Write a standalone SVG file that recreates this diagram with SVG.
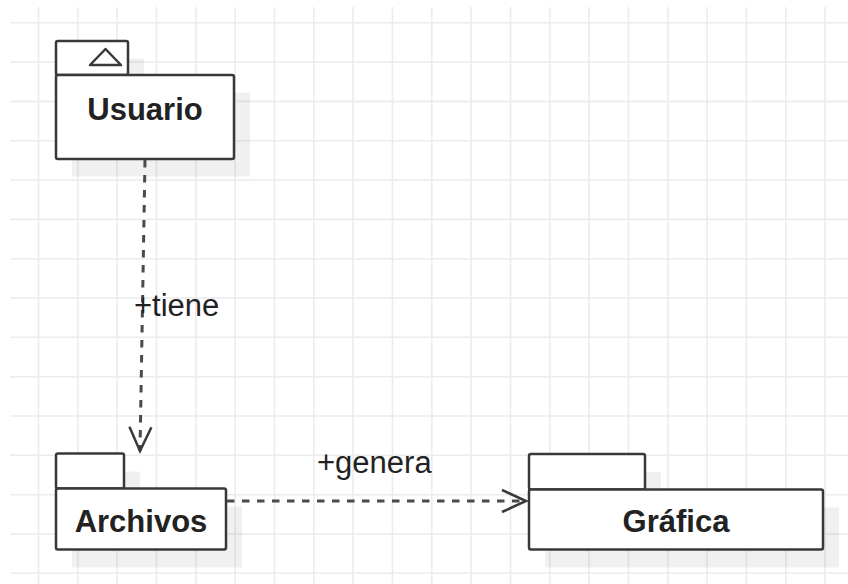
<svg xmlns="http://www.w3.org/2000/svg" width="848" height="584" viewBox="0 0 848 584">
<style>
.grid{stroke:#ececec;stroke-width:1.6;fill:none}
.shadow{fill:#000;fill-opacity:0.06;stroke:none}
.box{fill:#fff;stroke:#383838;stroke-width:2.5;stroke-linejoin:round}
.name{font-family:"Liberation Sans",Arial,sans-serif;font-weight:bold;font-size:31px;fill:#222;text-anchor:middle}
.lbl{font-family:"Liberation Sans",Arial,sans-serif;font-size:31px;fill:#222}
.dep{fill:none;stroke:#4a4a4a;stroke-width:3;stroke-dasharray:7.5 7.5}
</style>
<defs>
<marker id="open" markerUnits="userSpaceOnUse" markerWidth="40" markerHeight="40" refX="0" refY="0" viewBox="-30 -20 40 40" orient="auto" overflow="visible">
<path d="M-24,-11 L0,0 L-24,11" fill="none" stroke="#3a3a3a" stroke-width="2.5" stroke-dasharray="none"/>
</marker>
</defs>
<rect width="848" height="584" fill="#fff"/>
<path class="grid" d="M38.5,7V584M77.8,7V584M117.2,7V584M156.5,7V584M195.8,7V584M235.2,7V584M274.5,7V584M313.8,7V584M353.1,7V584M392.5,7V584M431.8,7V584M471.1,7V584M510.5,7V584M549.8,7V584M589.1,7V584M628.5,7V584M667.8,7V584M707.1,7V584M746.4,7V584M785.8,7V584M825.1,7V584M10,22.7H848M10,62H848M10,101.4H848M10,140.7H848M10,180H848M10,219.4H848M10,258.7H848M10,298H848M10,337.3H848M10,376.7H848M10,416H848M10,455.3H848M10,494.7H848M10,534H848M10,573.3H848"/>
<g id="usuario">
<path class="shadow" d="M72,58.5H144V92.5H250V176.5H72Z"/>
<rect class="box" x="56" y="41" width="72" height="34" rx="2"/>
<rect class="box" x="56" y="75" width="178" height="84" rx="2"/>
<path d="M90,65 L105.5,49 L121,65 Z" fill="none" stroke="#383838" stroke-width="2.5" stroke-linejoin="round"/>
<text class="name" x="145" y="120">Usuario</text>
</g>
<g id="archivos">
<path class="shadow" d="M72,471.5H140V506.5H242V567.5H72Z"/>
<rect class="box" x="56" y="453.5" width="68" height="35" rx="2"/>
<rect class="box" x="56" y="488.5" width="170" height="61" rx="2"/>
<text class="name" x="141" y="531.5">Archivos</text>
</g>
<g id="grafica">
<path class="shadow" d="M545,472H661V507.5H839V567.5H545Z"/>
<rect class="box" x="529" y="454" width="116" height="35.5" rx="2"/>
<rect class="box" x="529" y="489.5" width="294" height="60" rx="2"/>
<text class="name" x="676" y="531.5">Gráfica</text>
</g>
<g id="connectors">
<path class="dep" d="M145,160 L140,451" marker-end="url(#open)"/>
<text class="lbl" x="134" y="316">+tiene</text>
<path class="dep" d="M227,501 L526,501" marker-end="url(#open)"/>
<text class="lbl" x="317" y="473">+genera</text>
</g>
</svg>
